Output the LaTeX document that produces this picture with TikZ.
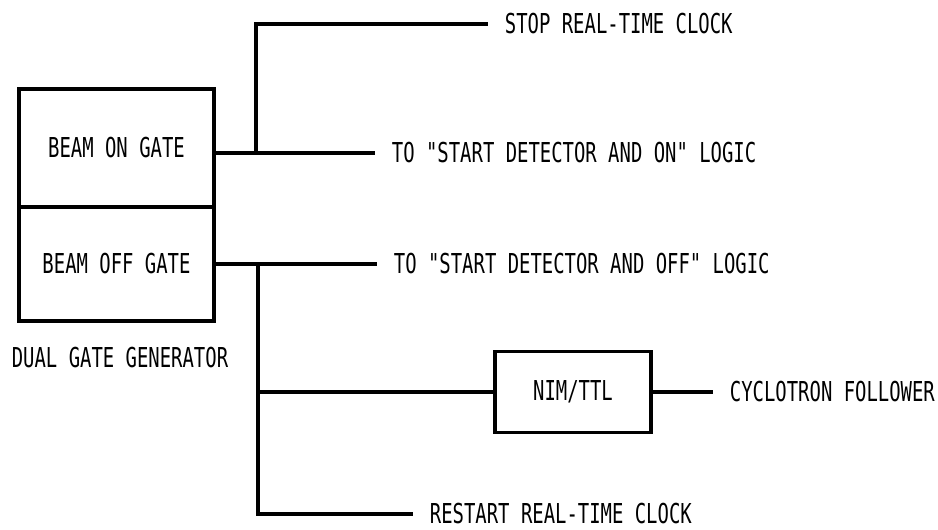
\documentclass[tikz,border=0pt]{standalone}
\usepackage{fontspec}
\newfontfamily\plotfont[FakeStretch=0.69]{DejaVu Sans Mono}
\begin{document}
\begin{tikzpicture}[x=0.02cm,y=-0.02cm, line width=2.2pt,
  gatebox/.style={draw, rectangle, minimum width=3.9cm, inner sep=0pt},
  sig/.style={anchor=west, inner xsep=0.3cm, inner ysep=0pt},
  every node/.style={font=\plotfont\fontsize{15.6pt}{18pt}\selectfont}]
\useasboundingbox (0,0) rectangle (938,529);
\node[gatebox, minimum height=2.36cm] (on) at (116.5,148) {BEAM ON GATE};
\node[gatebox, minimum height=2.28cm] (off) at (116.5,264) {BEAM OFF GATE};
\node (gen) at (120,358) {DUAL GATE GENERATOR};
\node[gatebox, minimum width=3.12cm, minimum height=1.62cm] (nim) at (573,392) {NIM/TTL};
\node[sig] (stop) at (488,24) {STOP REAL-TIME CLOCK};
\node[sig] (onlogic) at (375,153) {TO "START DETECTOR AND ON" LOGIC};
\node[sig] (offlogic) at (377,264) {TO "START DETECTOR AND OFF" LOGIC};
\node[sig] (cyclo) at (713,392) {CYCLOTRON FOLLOWER};
\node[sig] (restart) at (413,514) {RESTART REAL-TIME CLOCK};
\coordinate (onj) at (256,153);
\coordinate (offj) at (258,264);
\draw (onj -| on.east) -- (onlogic.west);
\draw (onj) |- (stop.west);
\draw (offj -| off.east) -- (offlogic.west);
\draw (offj) |- (restart.west);
\draw (offj |- nim.west) -- (nim.west);
\draw (nim.east) -- (cyclo.west);
\end{tikzpicture}
\end{document}
